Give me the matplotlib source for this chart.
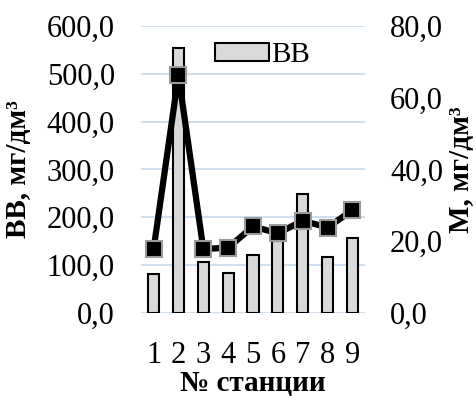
import matplotlib
matplotlib.use("Agg")
import matplotlib.pyplot as plt
from matplotlib.ticker import FuncFormatter, MultipleLocator
from matplotlib.patches import Patch

# data
stations = [1, 2, 3, 4, 5, 6, 7, 8, 9]
vv = [82, 555, 106, 84, 122, 150, 249, 116, 157]          # ВВ, mg/dm3 (left axis)
m = [17.8, 66.3, 17.8, 18.2, 24.1, 22.2, 25.7, 23.8, 28.7]  # М, mg/dm3 (right axis)

plt.rcParams["font.family"] = ["Liberation Serif", "DejaVu Serif"]
plt.rcParams["font.size"] = 22


def comma(v, pos):
    return f"{v:.1f}".replace(".", ",")


fig = plt.figure(figsize=(4.77, 3.96), dpi=100)
ax = fig.add_axes([0.296, 0.21, 0.469, 0.724])

ax.bar(stations, vv, width=0.45, color="#d9d9d9", edgecolor="black",
       linewidth=1.5, zorder=2)
ax.set_xlim(0.5, 9.5)
ax.set_ylim(0, 600)
ax.yaxis.set_major_locator(MultipleLocator(100))
ax.yaxis.set_major_formatter(FuncFormatter(comma))
ax.grid(axis="y", color="#c6d9f0", linewidth=1.2, zorder=0)
ax.set_axisbelow(True)
for s in ax.spines.values():
    s.set_visible(False)
ax.tick_params(axis="y", length=0, pad=19)
ax.set_xticks(stations)
ax.tick_params(axis="x", length=0, pad=20)
ax.set_ylabel("ВВ, мг/дм³", fontweight="bold", fontsize=21)
ax.yaxis.set_label_coords(-0.49, 0.5)
ax.set_xlabel("№ станции", fontweight="bold", fontsize=21, labelpad=0)

ax2 = ax.twinx()
ax2.plot(stations, m, color="black", linewidth=4.5, marker="s", markersize=12,
         markerfacecolor="black", markeredgecolor="#9a9a9a",
         markeredgewidth=1.5, zorder=3)
ax2.set_ylim(0, 80)
ax2.yaxis.set_major_locator(MultipleLocator(20))
ax2.yaxis.set_major_formatter(FuncFormatter(comma))
for s in ax2.spines.values():
    s.set_visible(False)
ax2.tick_params(length=0, pad=18)
ax2.set_ylabel("М, мг/дм³", fontweight="bold", fontsize=21, labelpad=4)

handle = Patch(facecolor="#d9d9d9", edgecolor="black", linewidth=1.5)
fig.legend([handle], ["ВВ"], loc="center left", fontsize=21,
           bbox_to_anchor=(0.45, 0.861), frameon=False,
           handlelength=1.85, handleheight=0.55, handletextpad=0.1,
           borderpad=0, borderaxespad=0)

fig.savefig("out.png", dpi=100)
